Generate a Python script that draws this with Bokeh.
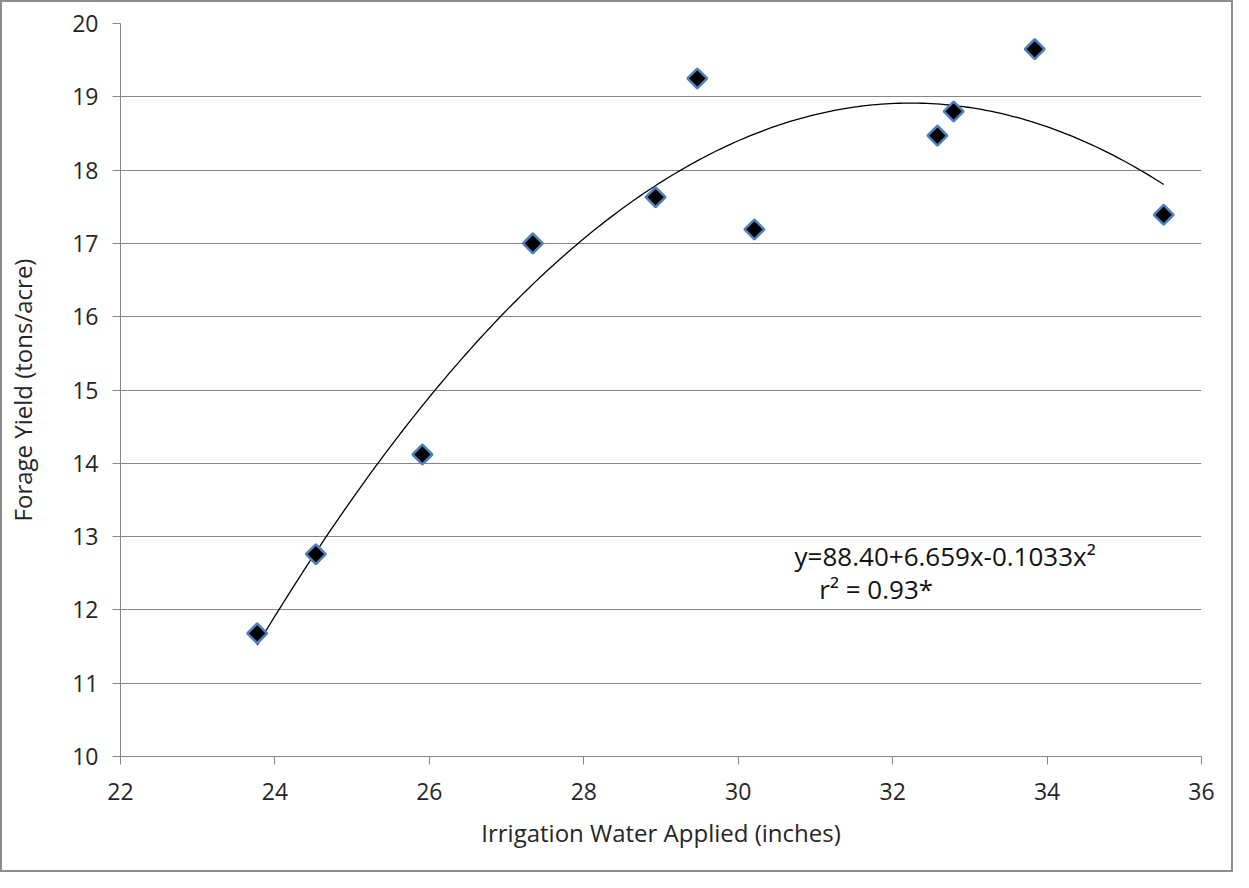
import numpy as np
from bokeh.plotting import figure
from bokeh.models import Label, FixedTicker
from bokeh.embed import file_html
from bokeh.resources import INLINE

# Data
water_in = [23.77, 24.53, 25.91, 27.34, 28.93, 29.47, 30.21, 32.58, 32.79, 33.84, 35.51]
yield_tpa = [11.68, 12.76, 14.12, 17.00, 17.63, 19.25, 17.19, 18.47, 18.80, 19.65, 17.39]
coef = [-88.40, 6.659, -0.1033]  # intercept, linear, quadratic (curve as drawn)
x_ticks = [22, 24, 26, 28, 30, 32, 34, 36]
y_ticks = [10, 11, 12, 13, 14, 15, 16, 17, 18, 19, 20]

FONT = "Open Sans"
GRAY = "#868686"
TXT = "#262626"

p = figure(width=1233, height=872, output_backend="svg", toolbar_location=None,
           x_range=(22, 36), y_range=(10, 20),
           min_border_left=118, min_border_right=34, min_border_top=21, min_border_bottom=118)
p.styles = {"border": "2px solid #8c8c8c"}
p.outline_line_color = None
p.background_fill_color = "white"
p.xgrid.grid_line_color = None
p.ygrid.grid_line_color = GRAY
p.ygrid.grid_line_width = 1
p.xaxis.ticker = FixedTicker(ticks=x_ticks)
p.yaxis.ticker = FixedTicker(ticks=y_ticks)
for ax in (p.xaxis, p.yaxis):
    ax.axis_line_color = GRAY
    ax.major_tick_line_color = GRAY
    ax.major_tick_out = 8
    ax.major_tick_in = 0
    ax.minor_tick_line_color = None
    ax.major_label_text_font = FONT
    ax.major_label_text_font_size = "23px"
    ax.major_label_text_color = TXT
    ax.axis_label_text_font = FONT
    ax.axis_label_text_font_size = "24px"
    ax.axis_label_text_font_style = "normal"
    ax.axis_label_text_color = TXT
p.xaxis.axis_label = "Irrigation Water Applied (inches)"
p.yaxis.axis_label = "Forage Yield (tons/acre)"
p.xaxis.major_label_standoff = 18
p.xaxis.axis_label_standoff = 13
p.yaxis.major_label_standoff = 14
p.yaxis.axis_label_standoff = 30

xs = np.linspace(min(water_in), max(water_in), 200)
ys = coef[0] + coef[1] * xs + coef[2] * xs ** 2
p.line(xs, ys, line_color="black", line_width=1.3)

p.scatter(water_in, yield_tpa, marker="square", angle=np.pi / 4, size=14,
          fill_color="black", line_color="#4f81bd", line_width=2.5)

p.add_layout(Label(x=30.73, y=12.74, text="y=88.40+6.659x-0.1033x\u00b2",
                   text_font=FONT, text_font_size="26px", text_color="#111111",
                   text_baseline="middle"))
p.add_layout(Label(x=31.05, y=12.28, text="r\u00b2 = 0.93*",
                   text_font=FONT, text_font_size="26px", text_color="#111111",
                   text_baseline="middle"))

open("out.html", "w").write(file_html(p, INLINE))
